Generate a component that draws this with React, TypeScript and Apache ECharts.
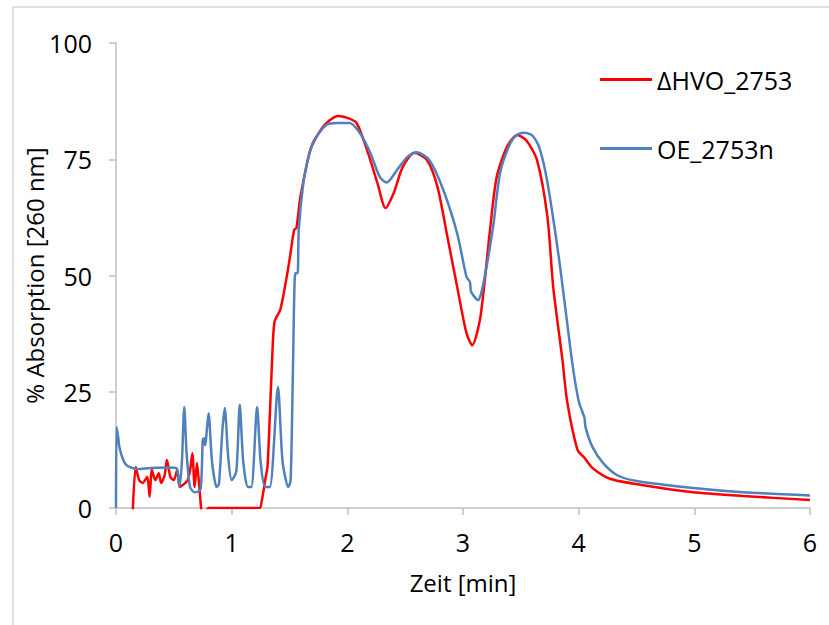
import React, { useEffect, useRef } from "react";
import * as echarts from "echarts";

const seriesNames = ["ΔHVO_2753", "OE_2753n"];
const xTicks = [0, 1, 2, 3, 4, 5, 6];
const yTicks = [0, 25, 50, 75, 100];

const redTime = [
  0.14, 0.17, 0.2, 0.23, 0.27, 0.29, 0.31, 0.34, 0.37, 0.39, 0.42, 0.44, 0.47, 0.5, 0.53, 0.55, 0.58, 0.6,
  0.62, 0.64, 0.66, 0.68, 0.7, 0.72, 0.74, 0.76, 0.78, 0.8, 1.24, 1.26, 1.29, 1.31, 1.33, 1.35, 1.37, 1.42,
  1.46, 1.5, 1.54, 1.56, 1.59, 1.63, 1.68, 1.75, 1.82, 1.92, 2.0, 2.08, 2.17, 2.26, 2.33, 2.4, 2.48, 2.58,
  2.69, 2.78, 2.86, 2.95, 3.03, 3.08, 3.15, 3.23, 3.29, 3.38, 3.47, 3.55, 3.64, 3.73, 3.78, 3.86, 3.9, 3.99,
  4.05, 4.12, 4.27, 4.56, 4.99, 5.42, 6.0,
];
const redAbs = [
  -4, 8.8, 6, 5.4, 6.7, 2.4, 8.2, 6, 7.5, 5.4, 7, 10.3, 6.7, 6, 8.2, 4.5, 5, 5.4,
  6, 8, 11.8, 4.5, 9.7, 4.5, -1, -3, -1, 0, 0, 1.5, 6, 9, 20, 32, 40, 42.6,
  47.5, 53.3, 59.8, 60.2, 66.2, 71.5, 77, 80.5, 82.8, 84.3, 83.9, 82.8, 77, 69.9, 64.5, 67.7, 73.4, 76.4,
  74.8, 69, 59, 47.5, 37.6, 35, 41, 59, 71, 77.7, 80.2, 79, 74.8, 62.6, 47.5, 31.8, 23, 12.5,
  10.8, 8.6, 6.3, 4.9, 3.4, 2.6, 1.7,
];

const blueTime = [
  0, 0.005, 0.02, 0.03, 0.06, 0.09, 0.13, 0.18, 0.3, 0.45, 0.52, 0.53, 0.55, 0.57, 0.59, 0.61, 0.64, 0.68,
  0.73, 0.75, 0.76, 0.77, 0.8, 0.83, 0.87, 0.89, 0.92, 0.94, 0.97, 1.0, 1.04, 1.07, 1.1, 1.14, 1.17, 1.22,
  1.25, 1.29, 1.33, 1.4, 1.44, 1.49, 1.51, 1.53, 1.55, 1.57, 1.58, 1.62, 1.66, 1.71, 1.82, 1.91, 2.02, 2.11,
  2.2, 2.28, 2.34, 2.43, 2.52, 2.6, 2.71, 2.83, 2.95, 3.03, 3.06, 3.07, 3.13, 3.17, 3.26, 3.32, 3.41, 3.47,
  3.53, 3.6, 3.66, 3.73, 3.84, 3.94, 4.0, 4.05, 4.06, 4.12, 4.21, 4.33, 4.5, 4.99, 5.42, 6.0,
];
const blueAbs = [
  0, 17.4, 15, 13, 10.5, 9.2, 8.7, 8.4, 8.6, 8.7, 8.6, 8.2, 4.6, 10, 21.7, 12, 4.5, 3.4,
  3.9, 14.6, 15, 13.5, 20.4, 10, 4.5, 5.2, 16.8, 21.5, 11, 6, 7.8, 22.2, 10, 4.5, 4.5, 21.7,
  10, 4.5, 4.5, 26, 10, 4.5, 6, 30, 50.5, 50.5, 59.8, 70, 75, 79, 82.4, 82.8, 82.8, 80.6,
  76.3, 71.2, 70, 72.7, 75.5, 76.5, 74.8, 68.4, 59, 49.7, 48.6, 46.5, 44.7, 47.5, 60.4, 72, 78.5, 80.3,
  80.7, 80.1, 77.5, 70, 51.8, 32, 23, 19.4, 17.3, 13.1, 9.7, 7.1, 5.8, 4.3, 3.4, 2.7,
];

const FONT = "'Open Sans', 'Noto Sans', sans-serif";

export default function App() {
  const ref = useRef<HTMLDivElement>(null);
  useEffect(() => {
    if (!ref.current) return;
    const chart = echarts.init(ref.current, null, { renderer: "svg" });
    const redData = redTime.map((t, i) => [t, redAbs[i]]);
    const blueData = blueTime.map((t, i) => [t, blueAbs[i]]);
    chart.setOption({
      animation: false,
      backgroundColor: "#ffffff",
      textStyle: { fontFamily: FONT },
      grid: { left: 116, right: 19, top: 43, bottom: 117, containLabel: false },
      graphic: [
        {
          type: "rect",
          shape: { x: 13, y: 7, width: 840, height: 640 },
          style: { fill: "none", stroke: "#d9d9d9", lineWidth: 1.5 },
          silent: true,
          z: -10,
        },
      ],
      legend: {
        orient: "vertical",
        left: 600,
        top: 67,
        padding: 0,
        itemGap: 44,
        icon: "rect",
        itemWidth: 52,
        itemHeight: 3,
        data: seriesNames,
        textStyle: { fontFamily: FONT, fontSize: 25, color: "#000", lineHeight: 25 },
      },
      xAxis: {
        type: "value",
        min: xTicks[0],
        max: xTicks[xTicks.length - 1],
        interval: 1,
        name: "Zeit [min]",
        nameLocation: "middle",
        nameGap: 62,
        nameMoveOverlap: false,
        nameTextStyle: { fontFamily: FONT, fontSize: 24, color: "#000" },
        axisLine: { show: true, onZero: false, lineStyle: { color: "#bfbfbf", width: 1.5 } },
        axisTick: { show: true, length: 7, lineStyle: { color: "#bfbfbf", width: 1.5 } },
        axisLabel: { fontFamily: FONT, fontSize: 25, color: "#000", margin: 21 },
        splitLine: { show: false },
      },
      yAxis: {
        type: "value",
        min: yTicks[0],
        max: yTicks[yTicks.length - 1],
        interval: 25,
        name: "% Absorption [260 nm]",
        nameLocation: "middle",
        nameGap: 70,
        nameMoveOverlap: false,
        nameTextStyle: { fontFamily: FONT, fontSize: 24, color: "#000" },
        axisLine: { show: true, lineStyle: { color: "#bfbfbf", width: 1.5 } },
        axisTick: { show: true, length: 7, lineStyle: { color: "#bfbfbf", width: 1.5 } },
        axisLabel: { fontFamily: FONT, fontSize: 25, color: "#000", margin: 24 },
        splitLine: { show: false },
      },
      series: [
        {
          name: seriesNames[0],
          type: "line",
          data: redData,
          showSymbol: false,
          symbol: "none",
          smooth: 0.25,
          clip: true,
          lineStyle: { color: "#ff0000", width: 2.5 },
          itemStyle: { color: "#ff0000" },
        },
        {
          name: seriesNames[1],
          type: "line",
          data: blueData,
          showSymbol: false,
          symbol: "none",
          smooth: 0.25,
          clip: true,
          lineStyle: { color: "#4f81bd", width: 2.5 },
          itemStyle: { color: "#4f81bd" },
        },
      ],
    });
    return () => chart.dispose();
  }, []);
  return (
    <div
      ref={ref}
      style={{ position: "fixed", left: 0, top: 0, width: 829, height: 625, background: "#fff" }}
    />
  );
}
